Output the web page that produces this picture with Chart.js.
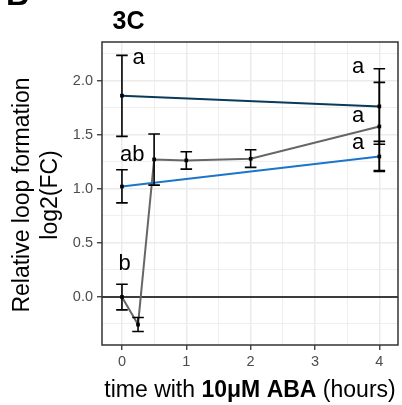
<!DOCTYPE html>
<html lang="en">
<head>
<meta charset="UTF-8">
<title>3C</title>
<script src="https://cdn.jsdelivr.net/npm/chart.js"></script>
<style>
  html, body { margin: 0; padding: 0; background: #fff; }
</style>
</head>
<body>
<canvas id="chart" width="402" height="405"></canvas>
<script>
// time with ABA (hours), log2(FC) and error bar ends
const navyX = [0, 4];
const navyY = [1.863, 1.764];
const navyLo = [1.486, 1.414];
const navyHi = [2.236, 2.113];

const blueX = [0, 4];
const blueY = [1.022, 1.300];
const blueLo = [0.871, 1.161];
const blueHi = [1.177, 1.440];

const grayX = [0, 0.25, 0.5, 1, 2, 4];
const grayY = [0.0, -0.256, 1.273, 1.264, 1.279, 1.578];
const grayLo = [-0.120, -0.320, 1.035, 1.183, 1.199, 1.170];
const grayHi = [0.117, -0.190, 1.508, 1.344, 1.362, 1.986];

// significance letters (data coordinates)
const letterText = ['a', 'ab', 'b', 'a', 'a', 'a'];
const letterX = [0.26, 0.16, 0.04, 3.67, 3.67, 3.67];
const letterY = [2.155, 1.258, 0.25, 2.07, 1.622, 1.367];

// labelled ticks
const xTicks = [0, 1, 2, 3, 4];
const yTicks = [0, 0.5, 1.0, 1.5, 2.0];

const FONT = 'Liberation Sans, Arial, Helvetica, sans-serif';
Chart.defaults.font.family = FONT;

const series = [
    { x: navyX, y: navyY, lo: navyLo, hi: navyHi, color: '#0a3a5a' },
    { x: blueX, y: blueY, lo: blueLo, hi: blueHi, color: '#1b75c8' },
    { x: grayX, y: grayY, lo: grayLo, hi: grayHi, color: '#666666' }
];

function toPoints(xs, ys) {
    return xs.map((v, i) => ({ x: v, y: ys[i] }));
}

// ggplot-like extras: zero line, error bars, panel border, letters and titles
const extras = {
    id: 'extras',
    beforeDatasetsDraw(chart) {
        const { ctx, chartArea: a, scales: { y } } = chart;
        const y0 = y.getPixelForValue(0);
        ctx.save();
        ctx.strokeStyle = '#000';
        ctx.lineWidth = 1.5;
        ctx.beginPath();
        ctx.moveTo(a.left, y0);
        ctx.lineTo(a.right, y0);
        ctx.stroke();
        ctx.restore();
    },
    afterDatasetsDraw(chart) {
        const { ctx, chartArea: a, scales: { x, y } } = chart;
        ctx.save();
        ctx.strokeStyle = '#000';
        ctx.lineWidth = 1.6;
        const half = x.getPixelForValue(0.09) - x.getPixelForValue(0);
        series.forEach(s => {
            s.x.forEach((xv, i) => {
                const px = x.getPixelForValue(xv);
                const top = y.getPixelForValue(s.hi[i]);
                const bot = y.getPixelForValue(s.lo[i]);
                ctx.beginPath();
                ctx.moveTo(px, top); ctx.lineTo(px, bot);
                ctx.moveTo(px - half, top); ctx.lineTo(px + half, top);
                ctx.moveTo(px - half, bot); ctx.lineTo(px + half, bot);
                ctx.stroke();
            });
        });

        // panel border
        ctx.strokeStyle = '#333333';
        ctx.lineWidth = 1.5;
        ctx.strokeRect(a.left, a.top, a.right - a.left, a.bottom - a.top);

        // letters
        ctx.fillStyle = '#000';
        ctx.font = '22px ' + FONT;
        ctx.textAlign = 'center';
        ctx.textBaseline = 'alphabetic';
        letterText.forEach((t, i) => {
            ctx.fillText(t, x.getPixelForValue(letterX[i]), y.getPixelForValue(letterY[i]));
        });
        ctx.restore();
    },
    afterDraw(chart) {
        const { ctx, chartArea: a } = chart;
        ctx.save();
        ctx.fillStyle = '#000';
        ctx.textBaseline = 'alphabetic';

        // cut-off panel letter and title
        ctx.textAlign = 'left';
        ctx.font = 'bold 32px ' + FONT;
        ctx.fillText('B', 6, 4.5);
        ctx.font = 'bold 25px ' + FONT;
        ctx.fillText('3C', 112.5, 28.5);

        // y axis title, two lines
        const cy = (a.top + a.bottom) / 2 + 1.5;
        ctx.font = '23px ' + FONT;
        ctx.textAlign = 'center';
        [['Relative loop formation', 29], ['log2(FC)', 56.5]].forEach(([t, bx]) => {
            ctx.save();
            ctx.translate(bx, cy);
            ctx.rotate(-Math.PI / 2);
            ctx.fillText(t, 0, 0);
            ctx.restore();
        });

        // x axis title with bold part
        const parts = [['time with ', false], ['10\u03bcM ABA', true], [' (hours)', false]];
        ctx.textAlign = 'left';
        let total = 0;
        parts.forEach(([t, b]) => {
            ctx.font = (b ? 'bold ' : '') + '23px ' + FONT;
            total += ctx.measureText(t).width;
        });
        let tx = (a.left + a.right) / 2 - total / 2;
        parts.forEach(([t, b]) => {
            ctx.font = (b ? 'bold ' : '') + '23px ' + FONT;
            ctx.fillText(t, tx, 396.5);
            tx += ctx.measureText(t).width;
        });
        ctx.restore();
    }
};

const chart = new Chart(document.getElementById('chart').getContext('2d'), {
    type: 'line',
    data: {
        datasets: series.map(s => ({
            data: toPoints(s.x, s.y),
            borderColor: s.color,
            borderWidth: 2,
            pointStyle: 'rect',
            pointRadius: 2.6,
            pointBackgroundColor: '#000',
            pointBorderWidth: 0,
            tension: 0,
            fill: false
        }))
    },
    options: {
        responsive: false,
        animation: false,
        layout: { padding: { top: 42, right: 4, left: 0, bottom: 0 } },
        plugins: { legend: { display: false }, tooltip: { enabled: false } },
        scales: {
            x: {
                type: 'linear',
                min: -0.31,
                max: 4.29,
                afterFit: s => { s.height = 60; },
                border: { display: false },
                grid: {
                    color: '#ebebeb',
                    lineWidth: c => xTicks.includes(c.tick?.value) ? 1.5 : 0.8,
                    tickColor: c => xTicks.includes(c.tick?.value) ? '#333333' : 'rgba(0,0,0,0)',
                    tickLength: 5,
                    tickWidth: 1.3
                },
                ticks: {
                    stepSize: 0.5,
                    includeBounds: false,
                    autoSkip: false,
                    maxRotation: 0,
                    padding: 3,
                    color: '#4d4d4d',
                    font: { size: 14.5 },
                    callback: v => xTicks.includes(v) ? String(v) : ''
                }
            },
            y: {
                min: -0.445,
                max: 2.36,
                afterFit: s => { s.width = 102; },
                border: { display: false },
                grid: {
                    color: '#ebebeb',
                    lineWidth: c => yTicks.includes(c.tick?.value) ? 1.5 : 0.8,
                    tickColor: c => yTicks.includes(c.tick?.value) ? '#333333' : 'rgba(0,0,0,0)',
                    tickLength: 5,
                    tickWidth: 1.3
                },
                ticks: {
                    stepSize: 0.25,
                    includeBounds: false,
                    autoSkip: false,
                    padding: 4,
                    color: '#4d4d4d',
                    font: { size: 14.5 },
                    callback: v => yTicks.includes(v) ? v.toFixed(1) : ''
                }
            }
        }
    },
    plugins: [extras]
});
</script>
</body>
</html>
